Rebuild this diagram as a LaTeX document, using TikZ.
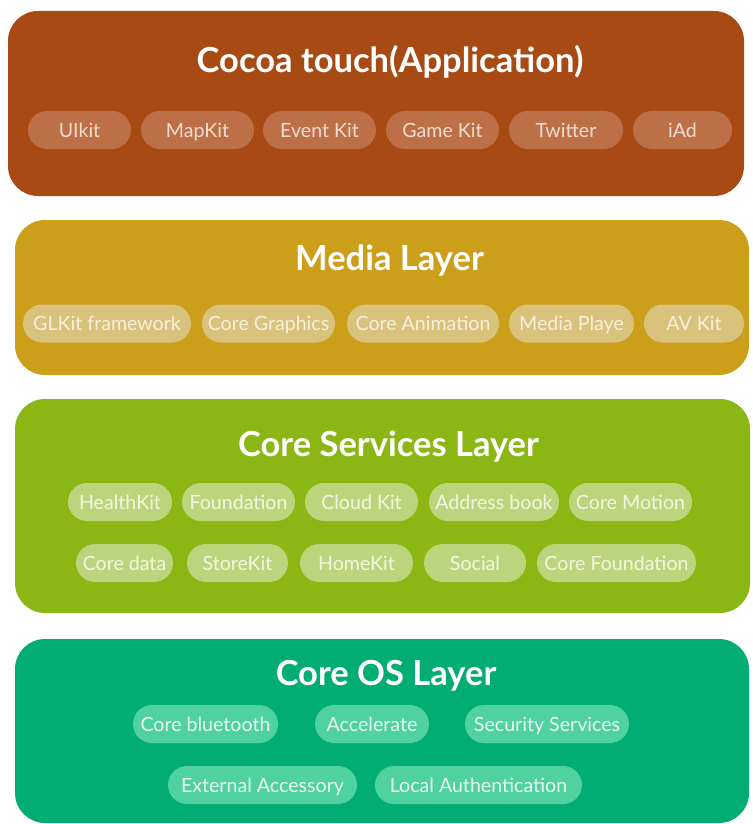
\documentclass[tikz,border=0pt]{standalone}
\usepackage{fontspec}
\setmainfont{Lato}
\definecolor{bgA}{HTML}{A84A14}
\definecolor{pillA}{HTML}{BD6F48}
\definecolor{txtA}{HTML}{F3DDD0}
\definecolor{bgB}{HTML}{CC9F1A}
\definecolor{pillB}{HTML}{D9C27C}
\definecolor{txtB}{HTML}{F7F0DC}
\definecolor{bgC}{HTML}{8AB714}
\definecolor{pillC}{HTML}{BCD57C}
\definecolor{txtC}{HTML}{F2F7E2}
\definecolor{bgD}{HTML}{02AD73}
\definecolor{pillD}{HTML}{4FD1A0}
\definecolor{txtD}{HTML}{E8F9F2}
\begin{document}
\begin{tikzpicture}[x=1pt,y=-1pt,
  layerbox/.style={rounded corners=30pt, inner sep=0pt, draw=none},
  pill/.style={rounded corners=19pt, inner sep=0pt, minimum height=38pt, text height=14pt, text depth=0pt, font=\fontsize{19.6}{22}\selectfont},
  pillbrown/.style={pill, fill=pillA, text=txtA},
  pillgold/.style={pill, fill=pillB, text=txtB},
  pillgreen/.style={pill, fill=pillC, text=txtC},
  pillteal/.style={pill, fill=pillD, text=txtD},
  ltitle/.style={font=\bfseries\fontsize{34.5}{38}\selectfont, text=white, inner sep=0pt, text height=25pt, text depth=0pt}]
\useasboundingbox (0,0) rectangle (752,824);

% Layer 1
\node[layerbox, fill=bgA, minimum width=736pt, minimum height=185pt] (cocoa) at (376,103.5) {};
\node[ltitle] (cocoaT) at (390,60.5) {Cocoa touch(Application)};
\node[pillbrown, minimum width=103pt] (uikit) at (79.5,130) {UIkit};
\node[pillbrown, minimum width=113pt] (mapkit) at (197.5,130) {MapKit};
\node[pillbrown, minimum width=113pt] (eventkit) at (319.5,130) {Event Kit};
\node[pillbrown, minimum width=113pt] (gamekit) at (442.5,130) {Game Kit};
\node[pillbrown, minimum width=114pt] (twitter) at (566,130) {Twitter};
\node[pillbrown, minimum width=99pt] (iad) at (682.5,130) {iAd};

% Layer 2
\node[layerbox, fill=bgB, minimum width=734pt, minimum height=155pt] (media) at (382,297.5) {};
\node[ltitle] (mediaT) at (389.5,258) {Media Layer};
\node[pillgold, minimum width=168pt] (glkit) at (107,323.5) {GLKit framework};
\node[pillgold, minimum width=133pt] (cgraph) at (268.5,323.5) {Core Graphics};
\node[pillgold, minimum width=152pt] (canim) at (423,323.5) {Core Animation};
\node[pillgold, minimum width=125pt] (mplay) at (571.5,323.5) {Media Playe};
\node[pillgold, minimum width=100pt] (avkit) at (694,323.5) {AV Kit};

% Layer 3
\node[layerbox, fill=bgC, minimum width=735pt, minimum height=214pt] (serv) at (382.5,506) {};
\node[ltitle] (servT) at (388.5,443.5) {Core Services Layer};
\node[pillgreen, minimum width=104pt] (health) at (120,502) {HealthKit};
\node[pillgreen, minimum width=113pt] (found) at (238.5,502) {Foundation};
\node[pillgreen, minimum width=113pt] (cloud) at (361.5,502) {Cloud Kit};
\node[pillgreen, minimum width=130pt] (addr) at (494,502) {Address book};
\node[pillgreen, minimum width=123pt] (motion) at (630.5,502) {Core Motion};
\node[pillgreen, minimum width=97pt] (cdata) at (124.5,563) {Core data};
\node[pillgreen, minimum width=101pt] (store) at (237.5,563) {StoreKit};
\node[pillgreen, minimum width=113pt] (home) at (356.5,563) {HomeKit};
\node[pillgreen, minimum width=102pt] (social) at (475,563) {Social};
\node[pillgreen, minimum width=159pt] (cfound) at (616.5,563) {Core Foundation};

% Layer 4
\node[layerbox, fill=bgD, minimum width=734pt, minimum height=184pt] (os) at (382,731) {};
\node[ltitle] (osT) at (386,672.5) {Core OS Layer};
\node[pillteal, minimum width=145pt] (blue) at (205.5,724) {Core bluetooth};
\node[pillteal, minimum width=114pt] (accel) at (372,724) {Accelerate};
\node[pillteal, minimum width=164pt] (secur) at (547,724) {Security Services};
\node[pillteal, minimum width=189pt] (extacc) at (262.5,785) {External Accessory};
\node[pillteal, minimum width=207pt] (lauth) at (478.5,785) {Local Authentication};
\end{tikzpicture}
\end{document}
